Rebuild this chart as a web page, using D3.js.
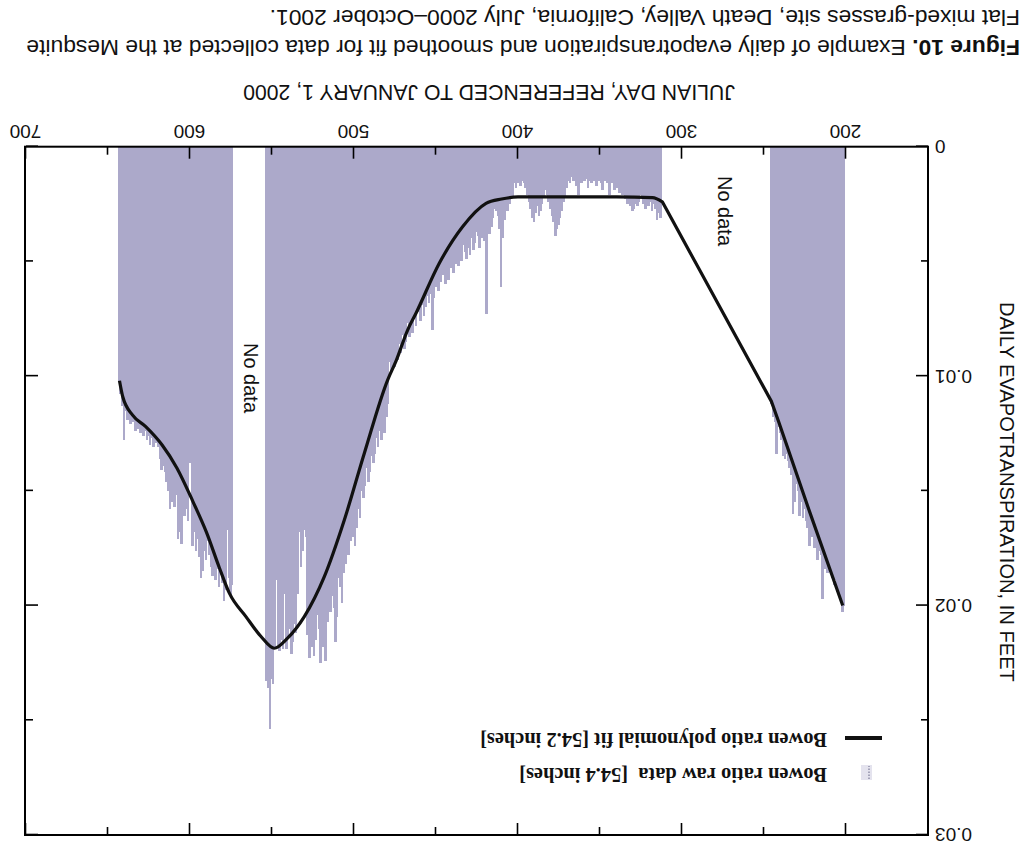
<!DOCTYPE html>
<html>
<head>
<meta charset="utf-8">
<script src="https://cdn.jsdelivr.net/npm/d3@7"></script>
<style>
  html, body { margin: 0; padding: 0; background: #ffffff; }
  svg { display: block; }
</style>
</head>
<body>
<svg id="chart" width="1029" height="845"></svg>
<script>
// ---------------- DATA ----------------
// Raw Bowen-ratio daily ET (feet), three measured periods (day = Julian day ref. Jan 1, 2000)
const rawAStart = 201;
const rawA = [
  0.0200, 0.0203, 0.0196, 0.0192, 0.0194, 0.0189, 0.0191, 0.0188, 0.0185, 0.0183,
  0.0186, 0.0180, 0.0184, 0.0197, 0.0178, 0.0176, 0.0180, 0.0172, 0.0175, 0.0170,
  0.0168, 0.0174, 0.0166, 0.0163, 0.0158, 0.0162, 0.0155, 0.0161, 0.0150, 0.0147,
  0.0155, 0.0160, 0.0143, 0.0140, 0.0137, 0.0134, 0.0136, 0.0135, 0.0128, 0.0125,
  0.0122, 0.0134, 0.0120, 0.0118, 0.0112
];
const rawBStart = 313;
const rawB = [
  // 313-325
  0.0031, 0.0029, 0.0032, 0.0027, 0.0025, 0.0028, 0.0024, 0.0026, 0.0023, 0.0027, 0.0025, 0.0022, 0.0021,
  // 326-340
  0.0024, 0.0026, 0.0025, 0.0027, 0.0028, 0.0026, 0.0024, 0.0025, 0.0023, 0.0020, 0.0021, 0.0019, 0.0020, 0.0018, 0.0017,
  // 341-372
  0.0019, 0.0016, 0.0015, 0.0021, 0.0016, 0.0014, 0.0015, 0.0019, 0.0016, 0.0015, 0.0014, 0.0017, 0.0015, 0.0014, 0.0016, 0.0015,
  0.0018, 0.0014, 0.0015, 0.0013, 0.0016, 0.0015, 0.0021, 0.0017, 0.0014, 0.0015, 0.0013, 0.0016, 0.0015, 0.0018, 0.0022, 0.0024,
  // 373-383
  0.0028, 0.0031, 0.0034, 0.0036, 0.0039, 0.0033, 0.0030, 0.0027, 0.0024, 0.0021, 0.0019,
  // 384-393
  0.0022, 0.0025, 0.0028, 0.0030, 0.0026, 0.0029, 0.0033, 0.0031, 0.0027, 0.0024,
  // 394-407
  0.0021, 0.0018, 0.0016, 0.0015, 0.0017, 0.0015, 0.0016, 0.0018, 0.0016, 0.0022, 0.0019, 0.0025, 0.0028, 0.0024,
  // 408-413
  0.0032, 0.0040, 0.0061, 0.0036, 0.0030, 0.0028,
  // 414-425
  0.0027, 0.0031, 0.0035, 0.0038, 0.0033, 0.0073, 0.0041, 0.0036, 0.0040, 0.0044, 0.0039, 0.0037,
  // 426-437
  0.0042, 0.0045, 0.0040, 0.0047, 0.0044, 0.0049, 0.0046, 0.0043, 0.0050, 0.0048, 0.0052, 0.0047,
  // 438-454
  0.0051, 0.0055, 0.0049, 0.0053, 0.0058, 0.0054, 0.0060, 0.0056, 0.0052, 0.0059, 0.0063, 0.0057, 0.0061, 0.0066, 0.0080, 0.0064, 0.0068,
  // 455-464
  0.0065, 0.0070, 0.0074, 0.0069, 0.0076, 0.0058, 0.0072, 0.0078, 0.0075, 0.0081,
  // 465-478
  0.0079, 0.0083, 0.0077, 0.0085, 0.0088, 0.0082, 0.0090, 0.0086, 0.0093, 0.0091, 0.0096, 0.0089, 0.0098, 0.0094,
  // 479-498
  0.0112, 0.0118, 0.0125, 0.0121, 0.0128, 0.0124, 0.0131, 0.0127, 0.0134, 0.0138, 0.0135, 0.0142, 0.0146, 0.0140, 0.0148, 0.0153, 0.0150, 0.0162, 0.0158, 0.0166,
  // 499-518
  0.0174, 0.0170, 0.0165, 0.0172, 0.0178, 0.0175, 0.0182, 0.0186, 0.0199, 0.0192, 0.0188, 0.0205, 0.0216, 0.0201, 0.0196, 0.0203, 0.0190, 0.0207, 0.0224, 0.0212,
  // 519-538
  0.0218, 0.0225, 0.0210, 0.0204, 0.0215, 0.0222, 0.0218, 0.0206, 0.0223, 0.0213, 0.0170, 0.0167, 0.0176, 0.0183, 0.0168, 0.0195, 0.0212, 0.0208, 0.0216, 0.0221,
  // 539-553
  0.0210, 0.0214, 0.0219, 0.0195, 0.0219, 0.0215, 0.0220, 0.0217, 0.0189, 0.0219, 0.0234, 0.0232, 0.0254, 0.0236, 0.0233
];
const rawCStart = 574;
const rawC = [
  0.0191, 0.0196, 0.0188, 0.0167, 0.0193, 0.0198, 0.0190, 0.0186, 0.0192, 0.0184,
  0.0189, 0.0181, 0.0187, 0.0183, 0.0178, 0.0172, 0.0180, 0.0176, 0.0185, 0.0188,
  0.0179, 0.0171, 0.0176, 0.0168, 0.0174, 0.0135, 0.0138, 0.0163, 0.0158, 0.0161,
  0.0155, 0.0173, 0.0168, 0.0171, 0.0152, 0.0157, 0.0149, 0.0155, 0.0158, 0.0150,
  0.0146, 0.0142, 0.0139, 0.0141, 0.0136, 0.0131, 0.0129, 0.0128, 0.0131, 0.0127,
  0.0130, 0.0126, 0.0128, 0.0124, 0.0126, 0.0122, 0.0125, 0.0123, 0.0121, 0.0124,
  0.0120, 0.0118, 0.0121, 0.0117, 0.0119, 0.0115, 0.0128, 0.0113, 0.0108, 0.0102
];

// Smoothed polynomial fit
const fitDays = [202, 222, 241, 245.5, 290, 312, 318, 340, 370, 400, 410, 419.5, 433.8, 448, 462.2, 467.3,
  474.4, 479.5, 493.7, 505.9, 518.1, 530.3, 540.5, 548.6, 556.7, 565.9, 576, 582.1, 590, 598, 608, 617, 627, 635, 641, 643];
const fitValues = [0.0200, 0.01595, 0.0120, 0.0111, 0.00528, 0.0024, 0.00222, 0.00219, 0.00219, 0.00219, 0.00228, 0.00247,
  0.00349, 0.00508, 0.00726, 0.00799, 0.00935, 0.01017, 0.01336, 0.01627, 0.01874, 0.02048, 0.02142, 0.02186,
  0.02135, 0.02048, 0.01946, 0.01835, 0.0168, 0.0155, 0.0140, 0.0130, 0.0122, 0.0117, 0.0109, 0.0102];

const xMajorTicks = [200, 300, 400, 500, 600, 700];
const xMinorTicks = [250, 350, 450, 550, 650];
const yMajorTicks = [0, 0.01, 0.02, 0.03];
const yTickLabels = ["0", "0.01", "0.02", "0.03"];
const yMinorTicks = [0.005, 0.015, 0.025];

const captionBold = "Figure 10.";
const captionLine1 = " Example of daily evapotranspiration and smoothed fit for data collected at the Mesquite";
const captionLine2 = "Flat mixed-grasses site, Death Valley, California, July 2000\u2013October 2001.";
const xTitle = "JULIAN DAY, REFERENCED TO JANUARY 1, 2000";
const yTitle = "DAILY EVAPOTRANSPIRATION, IN FEET";
const legendLabels = ["Bowen ratio raw data\u00a0\u00a0[54.4 inches]", "Bowen ratio polynomial fit [54.2 inches]"];
const noDataText = "No data";

// ---------------- DRAW ----------------
const W = 1029, H = 845;
const SANS = "'Liberation Sans', Arial, Helvetica, sans-serif";
const SERIF = "'Liberation Serif', 'Times New Roman', serif";
const BAR = "#aca9ca";

const svg = d3.select("#chart");
svg.append("rect").attr("width", W).attr("height", H).attr("fill", "#fff");
// whole figure is shown rotated by 180 degrees, as in the reference
const g = svg.append("g").attr("transform", `rotate(180, ${W / 2}, ${H / 2})`);

const x = d3.scaleLinear().domain([150, 700]).range([101, 1003]);
const y = d3.scaleLinear().domain([0, 0.03]).range([698.3, 10]);

function fitWidth(sel, target) {
  const L = sel.node().getComputedTextLength();
  const fs = parseFloat(sel.attr("font-size"));
  sel.attr("font-size", fs * target / L);
  return fs * target / L;
}

// raw data bars
const raw = [[rawAStart, rawA], [rawBStart, rawB], [rawCStart, rawC]]
  .flatMap(([s, arr]) => arr.map((v, i) => ({ day: s + i, v })));
g.append("g").attr("shape-rendering", "crispEdges")
  .selectAll("rect").data(raw).join("rect")
  .attr("x", d => x(d.day - 0.5))
  .attr("width", d => x(d.day + 0.5) - x(d.day - 0.5) + 1)
  .attr("y", d => y(d.v))
  .attr("height", d => y(0) - y(d.v))
  .attr("fill", BAR);

// fit line: straight recession limb, then smooth polynomial part
const fit = fitDays.map((d, i) => [d, fitValues[i]]);
const lineLin = d3.line().x(d => x(d[0])).y(d => y(d[1]));
const lineSmooth = d3.line().x(d => x(d[0])).y(d => y(d[1])).curve(d3.curveMonotoneX);
const pLin = lineLin(fit.filter(d => d[0] <= 312));
const pSmooth = lineSmooth(fit.filter(d => d[0] >= 312));
g.append("path")
  .attr("d", pLin + "L" + pSmooth.slice(1))
  .attr("fill", "none").attr("stroke", "#111").attr("stroke-width", 3.2)
  .attr("stroke-linejoin", "round").attr("stroke-linecap", "butt");

// axes (ticks inward on all four sides)
function styleAxis(sel) {
  sel.select(".domain").remove();
  sel.selectAll(".tick line").attr("stroke", "#000").attr("stroke-width", 1.6);
  sel.selectAll(".tick text").attr("font-family", SANS).attr("font-size", 19).attr("fill", "#111");
}
g.append("g").attr("transform", `translate(0,${y(0)})`)
  .call(d3.axisBottom(x).tickValues(xMajorTicks).tickSizeInner(-12).tickSizeOuter(0).tickPadding(8).tickFormat(d3.format("d")))
  .call(styleAxis);
g.append("g").attr("transform", `translate(0,${y(0)})`)
  .call(d3.axisBottom(x).tickValues(xMinorTicks).tickSizeInner(-8).tickSizeOuter(0).tickFormat(""))
  .call(styleAxis);
g.append("g").attr("transform", `translate(0,${y(0.03)})`)
  .call(d3.axisTop(x).tickValues(xMajorTicks).tickSizeInner(-12).tickSizeOuter(0).tickFormat(""))
  .call(styleAxis);
g.append("g").attr("transform", `translate(0,${y(0.03)})`)
  .call(d3.axisTop(x).tickValues(xMinorTicks).tickSizeInner(-8).tickSizeOuter(0).tickFormat(""))
  .call(styleAxis);
g.append("g").attr("transform", `translate(${x(150)},0)`)
  .call(d3.axisLeft(y).tickValues(yMajorTicks).tickSizeInner(-12).tickSizeOuter(0).tickPadding(7)
    .tickFormat((d, i) => yTickLabels[i]))
  .call(styleAxis);
g.append("g").attr("transform", `translate(${x(150)},0)`)
  .call(d3.axisLeft(y).tickValues(yMinorTicks).tickSizeInner(-7).tickSizeOuter(0).tickFormat(""))
  .call(styleAxis);
g.append("g").attr("transform", `translate(${x(700)},0)`)
  .call(d3.axisRight(y).tickValues(yMajorTicks).tickSizeInner(-12).tickSizeOuter(0).tickFormat(""))
  .call(styleAxis);
g.append("g").attr("transform", `translate(${x(700)},0)`)
  .call(d3.axisRight(y).tickValues(yMinorTicks).tickSizeInner(-7).tickSizeOuter(0).tickFormat(""))
  .call(styleAxis);

// frame
g.append("rect")
  .attr("x", x(150)).attr("y", y(0.03))
  .attr("width", x(700) - x(150) + 1).attr("height", y(0) - y(0.03))
  .attr("fill", "none").attr("stroke", "#000").attr("stroke-width", 2);

// axis titles
const xt = g.append("text").attr("x", 540).attr("y", 760)
  .attr("text-anchor", "middle").attr("font-family", SANS).attr("font-size", 20).attr("fill", "#111")
  .text(xTitle);
fitWidth(xt, 492);
const yt = g.append("text").attr("transform", "translate(29,353) rotate(-90)")
  .attr("text-anchor", "middle").attr("font-family", SANS).attr("font-size", 20).attr("fill", "#111")
  .text(yTitle);
fitWidth(yt, 380);

// "No data" annotations
[[304, 634], [778, 467]].forEach(([px, py]) => {
  g.append("text").attr("transform", `translate(${px},${py}) rotate(-90)`)
    .attr("text-anchor", "middle").attr("dominant-baseline", "central")
    .attr("font-family", SANS).attr("font-size", 20).attr("fill", "#111")
    .text(noDataText);
});

// legend
g.append("rect").attr("x", 157).attr("y", 65).attr("width", 11).attr("height", 15).attr("fill", "#e4e3ee");
g.append("line").attr("x1", 160).attr("x2", 160).attr("y1", 66).attr("y2", 79)
  .attr("stroke", "#8f8fa8").attr("stroke-width", 1.5).attr("stroke-dasharray", "1.5,1.5");
g.append("line").attr("x1", 147).attr("x2", 184).attr("y1", 107).attr("y2", 107)
  .attr("stroke", "#111").attr("stroke-width", 4);
const l2 = g.append("text").attr("x", 202).attr("y", 112)
  .attr("font-family", SERIF).attr("font-weight", "bold").attr("font-size", 16).attr("fill", "#111")
  .text(legendLabels[1]);
const lfs = fitWidth(l2, 347);
g.append("text").attr("x", 202).attr("y", 77)
  .attr("font-family", SERIF).attr("font-weight", "bold").attr("font-size", lfs).attr("fill", "#111")
  .text(legendLabels[0]);

// caption
const c1 = g.append("text").attr("x", 9).attr("y", 805)
  .attr("font-family", SANS).attr("font-size", 19).attr("fill", "#111");
c1.append("tspan").attr("font-weight", "bold").text(captionBold);
c1.append("tspan").text(captionLine1);
const cfs = fitWidth(c1, 994);
g.append("text").attr("x", 9).attr("y", 835)
  .attr("font-family", SANS).attr("font-size", cfs).attr("fill", "#111")
  .text(captionLine2);
</script>
</body>
</html>
